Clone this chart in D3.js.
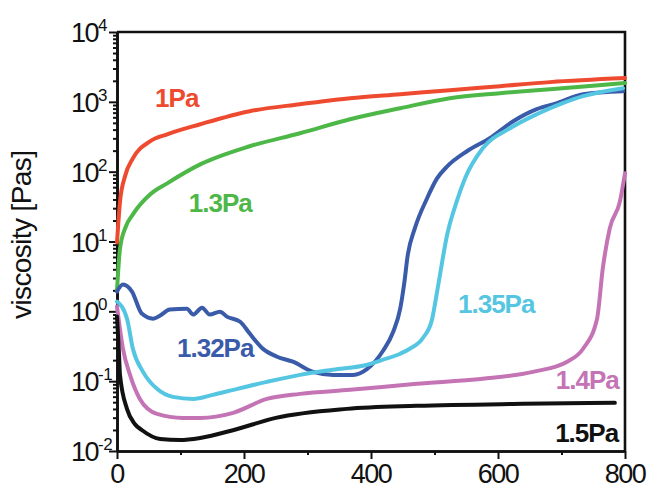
<!DOCTYPE html>
<html>
<head>
<meta charset="utf-8">
<script src="https://cdn.jsdelivr.net/npm/d3@7"></script>
<style>
  body { margin: 0; background: #fff; }
  svg { display: block; font-family: "Liberation Sans", Arial, Helvetica, sans-serif; }
  .tick-lab { font-size: 27px; fill: #111; letter-spacing: -1.5px; }
  .sup-lab { font-size: 17px; fill: #111; letter-spacing: -0.5px; }
  .ser-lab { font-size: 26px; font-weight: bold; letter-spacing: -1px; }
</style>
</head>
<body>
<div id="chart"></div>
<script>
// time [s], viscosity [Pas]
var s1Pa = [[0,9.7],[4.7,37],[12.6,86],[25,155],[52,272],[79,343],[131,478],[209,735],[288,925],
  [367,1128],[446,1288],[524,1470],[603,1678],[682,1915],[800,2187]];
var s13Pa = [[0,2.0],[4.7,7.9],[14,16.4],[25,24.4],[52,47],[79,68],[131,127],[209,231],[288,355],
  [367,564],[446,811],[524,1128],[603,1330],[682,1520],[800,1854]];
var s132Pa = [[0,1.92],[9.4,2.42],[23.6,1.92],[39,0.93],[57,0.785],[68,0.87],[83,1.06],[110,1.09],
  [120,0.90],[134,1.13],[146,0.90],[162,0.99],[173,0.84],[194,0.71],[209,0.48],[230,0.29],[252,0.224],
  [277,0.19],[309,0.136],[340,0.123],[372,0.123],[394,0.15],[419,0.273],[435,0.51],[446,1.09],
  [452,2.4],[458,6.5],[469,15.4],[488,41],[504,80],[520,119],[551,196],[587,301],[624,527],
  [661,785],[693,957],[734,1288],[797,1422]];
var s135Pa = [[0,1.38],[15.7,0.785],[25,0.291],[41,0.136],[63,0.0776],[88,0.0596],[120,0.0557],
  [151,0.0637],[183,0.0751],[236,0.0977],[288,0.123],[340,0.146],[394,0.172],[419,0.203],[446,0.247],
  [461,0.291],[482,0.419],[496,0.76],[506,2.42],[520,12.6],[535,37.6],[548,80],[576,216],[619,419],
  [661,665],[702,957],[734,1205],[797,1570]];
var s14Pa = [[0,1.17],[9.4,0.291],[20.5,0.123],[36,0.0557],[63,0.034],[104,0.0298],[131,0.0298],
  [183,0.0352],[236,0.0557],[288,0.0658],[367,0.0751],[472,0.0916],[576,0.108],[655,0.136],
  [709,0.19],[734,0.291],[756,0.785],[765,4.1],[776,15.4],[792,37.5],[800,95]];
var s15Pa = [[0,0.84],[3,0.264],[4.7,0.123],[15.7,0.0401],[28,0.0244],[39,0.020],[68,0.0149],
  [99,0.0144],[131,0.0154],[184,0.020],[250,0.0298],[362,0.0401],[472,0.0443],[639,0.0473],[784,0.0489]];

var seriesNames = ["1Pa", "1.3Pa", "1.32Pa", "1.35Pa", "1.4Pa", "1.5Pa"];
var seriesData = [s1Pa, s13Pa, s132Pa, s135Pa, s14Pa, s15Pa];
var seriesColors = ["#ee4a30", "#4db748", "#3a5ba9", "#55c6e2", "#c474b4", "#111111"];
// label anchors in data units (time, viscosity)
var labelAt = [[60,844],[113,26.5],[94.5,0.222],[537,0.946],[691,0.0773],[690,0.01346]];

var xTicks = [0, 200, 400, 600, 800];
var xMinor = [100, 300, 500, 700];
var yDecades = [-2, -1, 0, 1, 2, 3, 4];

var width = 651, height = 490;
var x = d3.scaleLinear().domain([0, 800]).range([117, 625]);
var y = d3.scaleLog().domain([1e-2, 1e4]).range([451, 32]);

var svg = d3.select("#chart").append("svg")
  .attr("width", width)
  .attr("height", height);

// minor log ticks
var yMinor = [];
yDecades.slice(0, -1).forEach(function(e) {
  for (var k = 2; k <= 9; k++) yMinor.push(k * Math.pow(10, e));
});

function styleAxis(g) {
  g.selectAll("path.domain").attr("stroke", "#111").attr("stroke-width", 2.6);
  g.selectAll(".tick line").attr("stroke", "#111").attr("stroke-width", 2);
  g.selectAll(".tick text").remove();
}

svg.append("g").attr("transform", "translate(117,0)")
  .call(d3.axisLeft(y).tickValues(yMinor).tickSize(4).tickSizeOuter(0).tickFormat(""))
  .call(styleAxis);
svg.append("g").attr("transform", "translate(117,0)")
  .call(d3.axisLeft(y).tickValues(yDecades.map(function(e) { return Math.pow(10, e); }))
    .tickSize(8).tickSizeOuter(0).tickFormat(""))
  .call(styleAxis);

svg.append("g").attr("transform", "translate(0,451)")
  .call(d3.axisBottom(x).tickValues(xMinor).tickSize(4).tickSizeOuter(0).tickFormat(""))
  .call(styleAxis);
svg.append("g").attr("transform", "translate(0,451)")
  .call(d3.axisBottom(x).tickValues(xTicks).tickSize(8).tickSizeOuter(0).tickFormat(""))
  .call(styleAxis);

// top and right frame
svg.append("path")
  .attr("d", "M" + x(0) + "," + y(1e4) + "H" + x(800) + "V" + y(1e-2))
  .attr("fill", "none").attr("stroke", "#111").attr("stroke-width", 2.6);

// y tick labels 10^n
yDecades.forEach(function(e) {
  var yy = y(Math.pow(10, e));
  svg.append("text").attr("class", "tick-lab")
    .attr("x", 98).attr("y", yy + 10)
    .attr("text-anchor", "end").text("10");
  svg.append("text").attr("class", "sup-lab")
    .attr("x", 98).attr("y", yy - 1)
    .text(e < 0 ? "-" + (-e) : e);
});

// x tick labels
xTicks.forEach(function(t) {
  svg.append("text").attr("class", "tick-lab")
    .attr("x", x(t)).attr("y", 483)
    .attr("text-anchor", "middle").text(t);
});

// y axis title
svg.append("text")
  .attr("transform", "translate(31,319) rotate(-90)")
  .attr("class", "tick-lab")
  .style("font-size", "28px").style("letter-spacing", "-0.6px")
  .text("viscosity [Pas]");

var line = d3.line()
  .x(function(d) { return x(d[0]); })
  .y(function(d) { return y(d[1]); })
  .curve(d3.curveMonotoneX);

seriesData.forEach(function(s, i) {
  svg.append("path")
    .datum(s)
    .attr("d", line)
    .attr("fill", "none")
    .attr("stroke", seriesColors[i])
    .attr("stroke-width", 4)
    .attr("stroke-linejoin", "round")
    .attr("stroke-linecap", "round");
});

seriesNames.forEach(function(n, i) {
  svg.append("text").attr("class", "ser-lab")
    .attr("x", x(labelAt[i][0])).attr("y", y(labelAt[i][1]))
    .attr("fill", seriesColors[i])
    .text(n);
});
</script>
</body>
</html>
